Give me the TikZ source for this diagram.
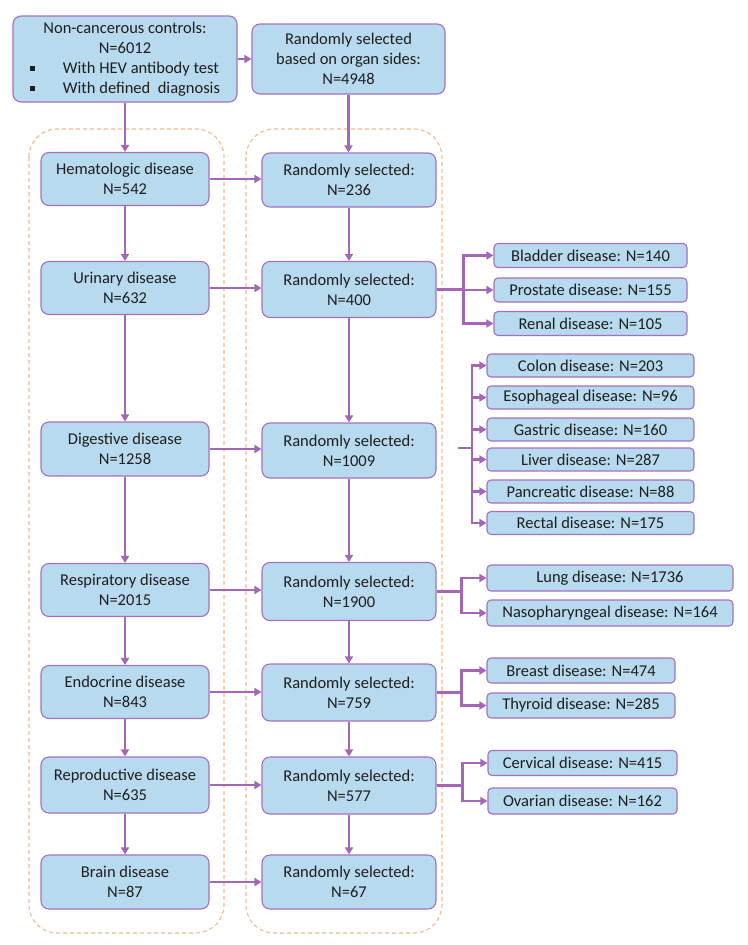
\documentclass[tikz,border=0pt]{standalone}
\usepackage{fontspec}
\setmainfont{Carlito}
\usepackage{xcolor}
\usepackage{tikz}
\usetikzlibrary{arrows.meta}
\definecolor{boxfill}{HTML}{B7DAEE}
\definecolor{boxline}{HTML}{A670BF}
\definecolor{link}{HTML}{A467B8}
\definecolor{frame}{HTML}{F8B88A}
\definecolor{ink}{HTML}{1E1E1E}
\newcommand{\boxfont}{\fontsize{16.5}{20}\selectfont}
\newcommand{\sqbullet}{\raisebox{2.5pt}{\rule{5pt}{5pt}}}
\tikzset{
  box/.style={draw=boxline, fill=boxfill, line width=1.1pt, rounded corners=8pt, align=center, text=ink, font=\boxfont, inner sep=0pt},
  lbox/.style={box, minimum width=168pt, minimum height=53pt},
  rbox/.style={box, minimum width=174pt, minimum height=56pt},
  subbox/.style={box, rounded corners=4pt, minimum height=24pt},
  arr/.style={draw=link, line width=2.5pt, -{Triangle[length=7pt,width=8pt]}},
  trunk/.style={draw=link, line width=2.5pt},
  grpframe/.style={draw=frame, line width=1.1pt, dash pattern=on 4pt off 3pt, rounded corners=28pt},
}

\begin{document}
\begin{tikzpicture}[x=1pt,y=-1pt]
  \fill[white] (0,0) rectangle (747,945);
  \useasboundingbox (0,0) rectangle (747,945);

  % dashed groups
  \draw[grpframe] (29,129) rectangle (224,933);
  \draw[grpframe] (246,129) rectangle (442,933);

  \node[box, minimum width=224pt, minimum height=86pt] (ctrl) at (125,59) {%
    \begin{tabular}{@{}l@{\hspace{28pt}}l@{}}
      \multicolumn{2}{c}{Non-cancerous controls:}\\
      \multicolumn{2}{c}{N=6012}\\
      \sqbullet & With HEV antibody test\\
      \sqbullet & With defined\ \ diagnosis
    \end{tabular}};
  \node[box, minimum width=193pt, minimum height=70pt] (sel) at (348.5,59)
    {Randomly selected\\ based on organ sides:\\ N=4948};

  % left column
  \node[lbox] (hem) at (125,179) {Hematologic disease\\ N=542};
  \node[lbox] (uri) at (125,288) {Urinary disease\\ N=632};
  \node[lbox, minimum height=54pt] (dig) at (125,449) {Digestive disease\\ N=1258};
  \node[lbox] (res) at (125,590) {Respiratory disease\\ N=2015};
  \node[lbox] (endo) at (125,692) {Endocrine disease\\ N=843};
  \node[lbox, minimum height=56pt] (repro) at (125,785) {Reproductive disease\\ N=635};
  \node[lbox, minimum height=54pt] (brain) at (125,882) {Brain disease\\ N=87};

  % right column
  \node[rbox, minimum height=54pt] (hemR) at (349,180) {Randomly selected:\\ N=236};
  \node[rbox] (uriR) at (349,289.5) {Randomly selected:\\ N=400};
  \node[rbox, minimum height=55pt] (digR) at (349,450.5) {Randomly selected:\\ N=1009};
  \node[rbox, minimum height=58pt] (resR) at (349,591.5) {Randomly selected:\\ N=1900};
  \node[rbox, minimum height=57pt] (endoR) at (349,692.5) {Randomly selected:\\ N=759};
  \node[rbox, minimum height=57pt] (reproR) at (349,785.5) {Randomly selected:\\ N=577};
  \node[rbox, minimum height=54pt] (brainR) at (349,882) {Randomly selected:\\ N=67};

  \draw[arr] (ctrl.east) -- (sel.west);
  \draw[arr] (ctrl) -- (hem);
  \draw[arr] (sel.south) -- (sel.south |- hemR.north);
  \draw[arr] (hem) -- (uri);
  \draw[arr] (uri) -- (dig);
  \draw[arr] (dig) -- (res);
  \draw[arr] (res) -- (endo);
  \draw[arr] (endo) -- (repro);
  \draw[arr] (repro) -- (brain);
  \draw[arr] (hemR) -- (uriR);
  \draw[arr] (uriR) -- (digR);
  \draw[arr] (digR) -- (resR);
  \draw[arr] (resR) -- (endoR);
  \draw[arr] (endoR) -- (reproR);
  \draw[arr] (reproR) -- (brainR);
  \draw[arr] (hem.east) -- (hem.east -| hemR.west);
  \draw[arr] (uri.east) -- (uri.east -| uriR.west);
  \draw[arr] (dig.east) -- (dig.east -| digR.west);
  \draw[arr] (res.east) -- (res.east -| resR.west);
  \draw[arr] (endo.east) -- (endo.east -| endoR.west);
  \draw[arr] (repro.east) -- (repro.east -| reproR.west);
  \draw[arr] (brain.east) -- (brain.east -| brainR.west);

  % urinary split
  \node[subbox, minimum width=193pt] (blad) at (590.5,255.5) {Bladder disease: N=140};
  \node[subbox, minimum width=193pt] (pros) at (590.5,290) {Prostate disease: N=155};
  \node[subbox, minimum width=193pt] (renal) at (590.5,323.5) {Renal disease: N=105};
  \draw[arr] (uriR.east) -- ++(27,0) |- (blad.west);
  \draw[arr] (uriR.east) -- ++(27,0) |- (pros.west);
  \draw[arr] (uriR.east) -- ++(27,0) |- (renal.west);

  % digestive split (stub not joined to the box)
  \coordinate (digS) at (458,448);
  \coordinate (digB) at (472,448);
  \draw[trunk] (digS) -- (digB);
  \foreach \nm/\txt/\yy in {colon/Colon disease: N=203/365.5,
      esoph/Esophageal disease: N=96/397.5,
      gast/Gastric disease: N=160/429.5,
      liver/Liver disease: N=287/459.5,
      panc/Pancreatic disease: N=88/491.5,
      rect/Rectal disease: N=175/523}{
    \node[subbox, minimum width=207pt, minimum height=23pt] (\nm) at (590.5,\yy) {\txt};
    \draw[arr] (digB) |- (\nm.west);
  }

  % respiratory split
  \node[subbox, minimum width=246pt, minimum height=26pt] (lung) at (610,578) {Lung disease: N=1736};
  \node[subbox, minimum width=246pt, minimum height=26pt] (naso) at (610,613) {Nasopharyngeal disease: N=164};
  \draw[arr] (resR.east) -- ++(25,0) |- (lung.west);
  \draw[arr] (resR.east) -- ++(25,0) |- (naso.west);

  % endocrine split
  \node[subbox, minimum width=188pt, minimum height=25pt] (breast) at (581,670.5) {Breast disease: N=474};
  \node[subbox, minimum width=188pt, minimum height=25pt] (thyr) at (581,705.5) {Thyroid disease: N=285};
  \draw[arr] (endoR.east) -- ++(25,0) |- (breast.west);
  \draw[arr] (endoR.east) -- ++(25,0) |- (thyr.west);

  % reproductive split
  \node[subbox, minimum width=189pt, minimum height=25pt] (cerv) at (582.5,763) {Cervical disease: N=415};
  \node[subbox, minimum width=189pt, minimum height=26pt] (ovar) at (582.5,801) {Ovarian disease: N=162};
  \draw[arr] (reproR.east) -- ++(26,0) |- (cerv.west);
  \draw[arr] (reproR.east) -- ++(26,0) |- (ovar.west);
\end{tikzpicture}
\end{document}
